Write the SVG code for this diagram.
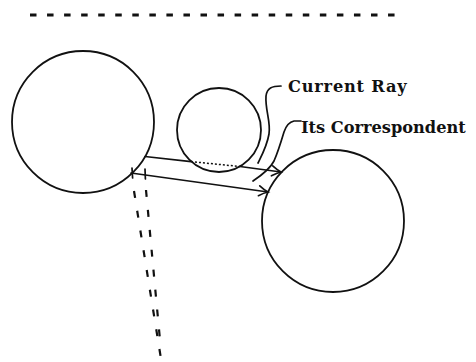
<svg xmlns="http://www.w3.org/2000/svg" width="476" height="362" viewBox="0 0 476 362">
<style>
.c{fill:none;stroke:#111;stroke-width:1.8}
.l{fill:none;stroke:#111;stroke-width:1.7;stroke-linecap:round}
.d{fill:none;stroke:#111;stroke-width:2.2;stroke-dasharray:7 13}
.t{font-family:"DejaVu Serif",serif;font-weight:bold;font-size:16.2px;fill:#111}
</style>
<defs>
<marker id="ah" markerUnits="userSpaceOnUse" markerWidth="14" markerHeight="14" viewBox="-10 -7 12 14" refX="0" refY="0" orient="auto">
<path d="M-9,-5 Q-4,-1.5 0,0 Q-4,1.5 -9,5" fill="none" stroke="#111" stroke-width="1.7" stroke-linecap="round"/>
</marker>
</defs>
<rect width="476" height="362" fill="#fff"/>
<line x1="30" y1="15" x2="396" y2="15" stroke="#111" stroke-width="3" stroke-dasharray="6.5 10.55"/>
<g id="big-circle"><circle class="c" cx="83" cy="122" r="71"/></g>
<g id="small-circle"><circle class="c" cx="219" cy="130" r="42"/></g>
<g id="right-circle"><circle class="c" cx="333" cy="221" r="71"/></g>
<g id="connectors">
<line class="l" x1="145" y1="156.5" x2="191" y2="161.6"/>
<line x1="191" y1="161.6" x2="240" y2="166.5" stroke="#111" stroke-width="1.5" stroke-dasharray="2 2"/>
<line class="l" x1="240" y1="166.5" x2="281" y2="172" marker-end="url(#ah)"/>
<line class="l" x1="131" y1="173" x2="268" y2="192" marker-end="url(#ah)"/>
<line class="l" x1="132" y1="168" x2="132.6" y2="178"/>
<line class="l" x1="145" y1="169" x2="145.4" y2="179"/>
<line class="d" x1="134" y1="191" x2="161.5" y2="362"/>
<line class="d" x1="146" y1="190" x2="160" y2="340"/>
<path class="l" d="M281,86 C272,86 267,88 266,96 C265,110 271,122 269,134 C267,146 262,155 258,163"/>
<path class="l" d="M301,121 L294,121 C289,122 286,126 284,132 C281,142 278,152 274,161 C270,169 262,175 253,181"/>
</g>
<g id="label-current-ray"><text class="t" x="288" y="92" letter-spacing="0.8">Current Ray</text></g>
<g id="label-its-correspondent"><text class="t" x="301" y="132.5">Its Correspondent</text></g>
</svg>
